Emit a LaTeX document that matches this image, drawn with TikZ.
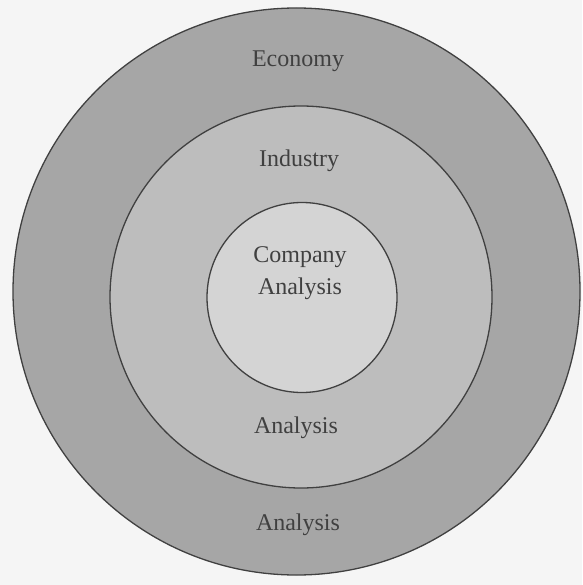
\documentclass[tikz,border=0pt]{standalone}
\usepackage{fontspec}
\setmainfont{Liberation Serif}
\begin{document}
\begin{tikzpicture}[x=1pt,y=-1pt,
  ring/.style={circle, draw=black!75, line width=1.3pt, inner sep=0pt},
  lbl/.style={text=black!75, font=\fontsize{24}{25}\selectfont, align=center, inner sep=0pt}]
\useasboundingbox[fill=black!4] (0,0) rectangle (582,585);
\node[ring, fill=black!35, minimum size=567pt] (outer) at (296.5,291.5) {};
\node[ring, fill=black!26, minimum size=382pt] (middle) at (301,297) {};
\node[ring, fill=black!17, minimum size=190pt] (inner) at (302,297.5) {};
\node[lbl] (economy) at (298,61) {Economy};
\node[lbl] (industry) at (299,161) {Industry};
\node[lbl, font=\fontsize{24}{32}\selectfont] (company) at (300,273) {Company\\Analysis};
\node[lbl] (ianalysis) at (296,428) {Analysis};
\node[lbl] (eanalysis) at (298,525) {Analysis};
\end{tikzpicture}
\end{document}
